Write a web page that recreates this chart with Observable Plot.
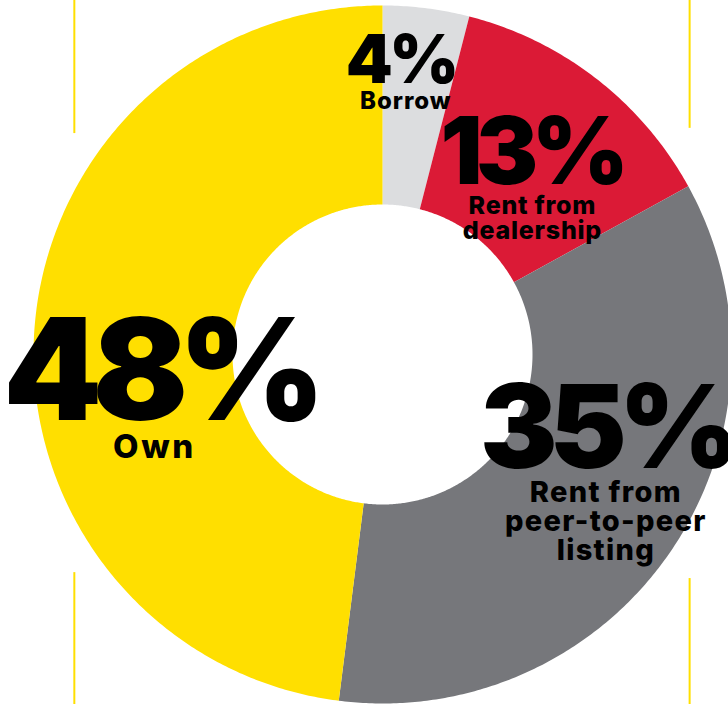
<!DOCTYPE html>
<html><head><meta charset="utf-8">
<script src="https://cdn.jsdelivr.net/npm/d3@7"></script>
<script src="https://cdn.jsdelivr.net/npm/@observablehq/plot@0.6"></script>
<style>
html,body{margin:0;padding:0;background:#fff;}
#chart svg{display:block;}
#chart text{font-family:Inter,"Noto Sans",sans-serif;}
#chart .pct1 text{letter-spacing:-0.05em;}
#chart .pct2 text{letter-spacing:-0.07em;}
#chart .pct3 text{letter-spacing:-0.07em;}
#chart .pct4 text{letter-spacing:-0.07em;}
#chart .nm1 text{letter-spacing:0.04em;}
#chart .nm2 text{letter-spacing:0.03em;}
#chart .nm3 text{letter-spacing:0.045em;}
#chart .nm4 text{letter-spacing:0.08em;}
</style></head><body><div id="chart"></div>
<script>
// ---- data ----
const categories = ["Borrow", "Rent from dealership", "Rent from peer-to-peer listing", "Own"];
const shares = [4, 13, 35, 48];
const pctLabels = ["4%", "13%", "35%", "48%"];
const nameLabels = ["Borrow", "Rent from\ndealership", "Rent from\npeer-to-peer\nlisting", "Own"];
const colors = ["#DCDDDF", "#DB1A36", "#76777B", "#FFDF00"];

// ---- layout (styling, not data) ----
const W = 728, H = 704;
const R = 349, r0 = 150;
const pctStyle = [
  {dx: -13, dy: -24, size: 67},
  {dx: -4, dy: 27, size: 93},
  {dx: 17, dy: -27, size: 116},
  {dx: 26, dy: 81, size: 141}
];
const nameStyle = [
  {dx: -8, dy: 2, size: 24, lh: 1},
  {dx: -3, dy: 82, size: 25, lh: 1.02},
  {dx: 17, dy: 65, size: 29, lh: 1.0},
  {dx: 21, dy: 119, size: 33, lh: 1}
];

const total = d3.sum(shares);
let acc = 0;
const slices = categories.map((c, i) => {
  const a0 = acc / total * 2 * Math.PI; acc += shares[i];
  const a1 = acc / total * 2 * Math.PI;
  const am = (a0 + a1) / 2, rm = (R + r0) / 2;
  return {category: c, i, a0, a1, cx: rm * Math.sin(am), cy: rm * Math.cos(am), pct: pctLabels[i], name: nameLabels[i]};
});

// ring outline points for each slice (outer arc, then inner arc back)
const ring = slices.flatMap(s => {
  const n = Math.max(8, Math.ceil((s.a1 - s.a0) / (Math.PI / 360)));
  const pts = [];
  for (let k = 0; k <= n; k++) { const a = s.a0 + (s.a1 - s.a0) * k / n; pts.push({category: s.category, x: R * Math.sin(a), y: R * Math.cos(a)}); }
  for (let k = n; k >= 0; k--) { const a = s.a0 + (s.a1 - s.a0) * k / n; pts.push({category: s.category, x: r0 * Math.sin(a), y: r0 * Math.cos(a)}); }
  return pts;
});

// decorative yellow frame rules
const frame = [
  {x: -0.883 * R, y1: 1.02 * R, y2: 0.633 * R},
  {x: -0.883 * R, y1: -0.625 * R, y2: -1.01 * R},
  {x: 0.88 * R, y1: 1.02 * R, y2: 0.648 * R},
  {x: 0.88 * R, y1: -0.642 * R, y2: -1.01 * R}
];

const textMarks = slices.flatMap((s, i) => [
  Plot.text([s], {x: "cx", y: "cy", text: "pct", dx: pctStyle[i].dx, dy: pctStyle[i].dy,
    fontSize: pctStyle[i].size, fontWeight: 900, lineAnchor: "bottom", fill: "#000", className: "pct" + (i + 1)}),
  Plot.text([s], {x: "cx", y: "cy", text: "name", dx: nameStyle[i].dx, dy: nameStyle[i].dy,
    fontSize: nameStyle[i].size, fontWeight: 800, lineAnchor: "bottom", lineHeight: nameStyle[i].lh, fill: "#000", className: "nm" + (i + 1)})
]);

const chart = Plot.plot({
  width: W, height: H,
  margin: 0,
  x: {domain: [-382, W - 382], axis: null},
  y: {domain: [-(H - 354), 354], axis: null},
  color: {domain: categories, range: colors},
  style: {background: "#fff", overflow: "visible"},
  marks: [
    Plot.ruleX(frame, {x: "x", y1: "y1", y2: "y2", stroke: "#FFDF00", strokeWidth: 2}),
    Plot.line(ring, {x: "x", y: "y", z: "category", fill: "category", stroke: "none", curve: "linear"}),
    ...textMarks
  ]
});
document.getElementById("chart").appendChild(chart);
</script>
</body></html>
